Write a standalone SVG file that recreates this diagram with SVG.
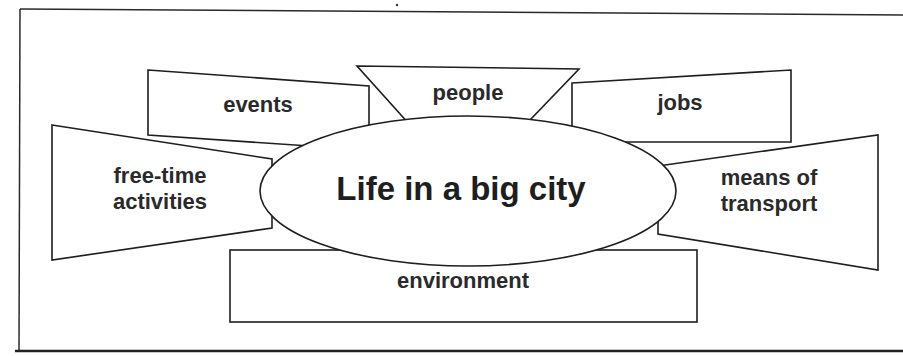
<svg xmlns="http://www.w3.org/2000/svg" width="903" height="356" viewBox="0 0 903 356">
  <style>
    .shape { fill: #ffffff; stroke: #1e1e1e; stroke-width: 1.6; stroke-linejoin: miter; }
    .lbl { font-family: "Liberation Sans", Arial, sans-serif; font-weight: bold; font-size: 22px; fill: #2a2a2a; text-anchor: middle; }
    .title { font-size: 33px; fill: #1e1e1e; }
    .frame { fill: none; stroke: #2a2a2a; stroke-width: 1.5; }
  </style>
  <rect x="0" y="0" width="903" height="356" fill="#ffffff"/>
  <g id="frame">
    <path class="frame" d="M20,9 L903,15"/>
    <path class="frame" d="M20,9 L19,350" stroke="#777777"/>
    <path d="M15,351 L903,351" stroke="#222222" stroke-width="2.4" fill="none"/>
    <circle cx="397" cy="5" r="1.2" fill="#333333"/>
    <path d="M60,233 L63,227" stroke="#555555" stroke-width="1.2" fill="none"/>
  </g>
  <g id="node-events">
    <polygon class="shape" points="148,70 369,86 369,150 148,135"/>
    <text class="lbl" x="258" y="112">events</text>
  </g>
  <g id="node-people">
    <polygon class="shape" points="357,66 579,69 506,145 428,145"/>
    <text class="lbl" x="468" y="100">people</text>
  </g>
  <g id="node-jobs">
    <polygon class="shape" points="572,83 791,70 791,142 572,142"/>
    <text class="lbl" x="680" y="110">jobs</text>
  </g>
  <g id="node-free-time">
    <polygon class="shape" points="52,125 272,159 272,228 52,260"/>
    <text class="lbl" x="160" y="183">free-time</text>
    <text class="lbl" x="160" y="209">activities</text>
  </g>
  <g id="node-transport">
    <polygon class="shape" points="658,166 878,135 878,270 658,234"/>
    <text class="lbl" x="769" y="185">means of</text>
    <text class="lbl" x="769" y="211">transport</text>
  </g>
  <g id="node-environment">
    <rect class="shape" x="230" y="250" width="467" height="72"/>
    <text class="lbl" x="463" y="288">environment</text>
  </g>
  <g id="node-center">
    <ellipse class="shape" cx="468" cy="191" rx="208" ry="75"/>
    <text class="lbl title" x="461" y="200">Life in a big city</text>
  </g>
</svg>
